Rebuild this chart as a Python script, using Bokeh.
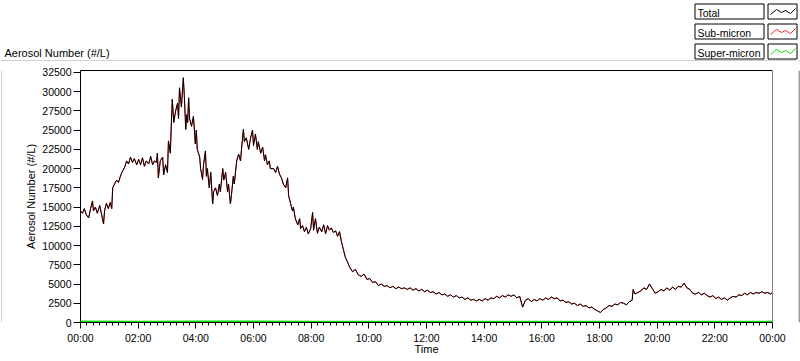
from bokeh.plotting import figure
from bokeh.layouts import column, row
from bokeh.models import LinearAxis, FixedTicker, Range1d
from bokeh.core.properties import value
from bokeh.embed import file_html
from bokeh.resources import INLINE

# ---------------- data: (minutes after midnight, aerosol number #/L) ----------------
total_readings = [
    (0, 14500), (4, 14200), (8, 14800), (12, 14000), (17, 13600), (21, 14800), (25, 15800), (27, 14500),
    (31, 15000), (35, 14200), (40, 15200), (44, 14000), (48, 12800), (50, 14500), (54, 15500), (58, 14800),
    (62, 15600), (65, 14800), (67, 17500), (71, 18000), (75, 18500), (79, 18200), (83, 19000), (87, 19600),
    (92, 20200), (96, 21000), (100, 20600), (104, 21500), (108, 20800), (112, 21300), (117, 20500), (121, 21200),
    (125, 20500), (129, 21400), (133, 20300), (137, 21000), (142, 20600), (146, 21600), (150, 20500), (154, 21000),
    (158, 20800), (160, 22000), (162, 18800), (166, 21000), (171, 21500), (173, 19200), (177, 20500), (181, 19500),
    (183, 23600), (187, 22000), (189, 25800), (191, 29000), (194, 26000), (198, 27500), (202, 28500), (204, 26500),
    (206, 30500), (210, 28000), (214, 31800), (216, 29500), (219, 25100), (221, 27000), (223, 26000), (225, 29200),
    (227, 26500), (231, 25500), (235, 26800), (239, 23200), (241, 25000), (243, 22500), (248, 21500), (250, 20000),
    (254, 18600), (256, 20500), (260, 22300), (262, 19000), (264, 20000), (268, 17500), (271, 19500), (275, 15400),
    (277, 17000), (281, 17500), (285, 16500), (289, 18000), (291, 17000), (296, 20000), (298, 18500), (302, 19500),
    (306, 17000), (308, 18000), (312, 15400), (314, 16500), (318, 19000), (320, 18000), (325, 21000), (329, 21900),
    (333, 21000), (335, 22500), (339, 25100), (341, 23500), (345, 24000), (350, 22500), (354, 24000), (358, 25000),
    (360, 23000), (364, 24500), (368, 22500), (370, 23500), (375, 22000), (379, 22800), (383, 21000), (385, 21800),
    (389, 20500), (393, 21000), (395, 20000), (402, 20000), (406, 19500), (410, 20300), (414, 19300), (418, 18800),
    (422, 18000), (427, 17500), (431, 18800), (433, 16500), (437, 15500), (441, 14500), (443, 15000), (447, 13500),
    (452, 12700), (456, 13500), (458, 12200), (462, 12600), (466, 11800), (470, 12400), (474, 11500), (479, 12200),
    (483, 14300), (485, 12000), (489, 13500), (493, 11600), (497, 12400), (502, 11800), (506, 12700), (510, 11500),
    (514, 12600), (518, 12000), (522, 12300), (526, 11700), (531, 11900), (535, 11200), (539, 11800), (543, 10500),
    (547, 9500), (551, 8500), (556, 7800), (560, 7200), (566, 6600), (572, 6900), (578, 6200), (584, 6000),
    (590, 6300), (596, 5600), (602, 5700), (608, 5200), (614, 5300), (620, 4800), (626, 5000), (632, 4700),
    (638, 4800), (644, 4500), (650, 4700), (656, 4400), (662, 4600), (668, 4400), (674, 4500), (680, 4300),
    (686, 4500), (692, 4200), (698, 4400), (704, 4100), (710, 4300), (716, 4000), (722, 4200), (728, 3900),
    (734, 4000), (740, 3700), (746, 3900), (752, 3600), (758, 3700), (764, 3400), (770, 3600), (776, 3300),
    (782, 3500), (788, 3200), (794, 3300), (800, 3000), (806, 3200), (812, 2900), (818, 3000), (824, 2800),
    (830, 3000), (836, 2800), (842, 3100), (848, 2900), (854, 3200), (860, 3100), (866, 3400), (872, 3200),
    (878, 3500), (884, 3300), (890, 3600), (896, 3400), (902, 3600), (908, 3200), (914, 3400), (920, 2000),
    (926, 2900), (932, 3100), (938, 2700), (944, 3000), (950, 2800), (956, 3100), (962, 2900), (968, 3200),
    (974, 3000), (980, 3300), (986, 3100), (992, 3200), (998, 2800), (1004, 2900), (1010, 2600), (1016, 2700),
    (1022, 2400), (1028, 2500), (1034, 2200), (1040, 2400), (1046, 2100), (1052, 2200), (1058, 1900), (1064, 2000),
    (1070, 1700), (1076, 1500), (1082, 1300), (1088, 1700), (1094, 1900), (1100, 2200), (1106, 2100), (1112, 2400),
    (1118, 2300), (1124, 2600), (1130, 2500), (1136, 2300), (1142, 2700), (1148, 2900), (1150, 4300), (1154, 3700),
    (1160, 3900), (1166, 4100), (1172, 4500), (1178, 4300), (1184, 5000), (1190, 4400), (1196, 3800), (1202, 4000),
    (1208, 4300), (1214, 4100), (1220, 4500), (1226, 4200), (1232, 4600), (1238, 4300), (1244, 4700), (1250, 4600),
    (1256, 5100), (1262, 4500), (1268, 4300), (1274, 3800), (1280, 3700), (1286, 3900), (1292, 3600), (1298, 3800),
    (1304, 3500), (1310, 3300), (1316, 3500), (1322, 3100), (1328, 3300), (1334, 3000), (1340, 3200), (1346, 2900),
    (1352, 3200), (1358, 3400), (1364, 3300), (1370, 3600), (1376, 3500), (1382, 3800), (1388, 3600), (1394, 3900),
    (1400, 3700), (1406, 3900), (1412, 3800), (1418, 4000), (1424, 3800), (1430, 3900), (1436, 3700), (1440, 3900),
]
minutes = [m for m, _ in total_readings]
total = [v for _, v in total_readings]
sub_micron = [v for _, v in total_readings]   # indistinguishable from Total at this scale
super_minutes = [0, 120, 240, 360, 480, 600, 720, 840, 960, 1080, 1200, 1320, 1440]
super_micron = [150, 140, 160, 150, 140, 130, 130, 120, 120, 120, 130, 130, 130]

x_tick_hours = [0, 2, 4, 6, 8, 10, 12, 14, 16, 18, 20, 22, 24]
x_tick_labels = ["00:00", "02:00", "04:00", "06:00", "08:00", "10:00", "12:00",
                 "14:00", "16:00", "18:00", "20:00", "22:00", "00:00"]
y_ticks = [0, 2500, 5000, 7500, 10000, 12500, 15000, 17500, 20000,
           22500, 25000, 27500, 30000, 32500]
series_names = ["Total", "Sub-micron", "Super-micron"]
series_colors = ["#000000", "#ff2020", "#00e000"]
chart_title = "Aerosol Number (#/L)"

hours = [m / 60 for m in minutes]
super_hours = [m / 60 for m in super_minutes]

FONT = "Liberation Sans"
W = 800
HEAD_H = 61
FOOT_H = 3
MAIN_H = 361 - HEAD_H - FOOT_H


def blank(width, height, x_end, y_end):
    f = figure(width=width, height=height, output_backend="svg", toolbar_location=None,
               x_range=Range1d(0, x_end), y_range=Range1d(y_end, 0),
               x_axis_location=None, y_axis_location=None,
               min_border_left=0, min_border_right=0, min_border_top=0, min_border_bottom=0,
               background_fill_color="white", border_fill_color="white")
    f.outline_line_color = None
    f.xgrid.visible = False
    f.ygrid.visible = False
    return f


# ---------------- header: title, legend, panel edge ----------------
hd = blank(W, HEAD_H, W, HEAD_H)
hd.segment(x0=[0], y0=[60.5], x1=[795], y1=[60.5], line_color="#a0a0a0", line_width=1)
hd.segment(x0=[1.5], y0=[60], x1=[1.5], y1=[HEAD_H], line_color="#a0a0a0", line_width=1)
hd.segment(x0=[798.5], y0=[60], x1=[798.5], y1=[HEAD_H], line_color="#404040", line_width=1)
hd.text(x=[4], y=[52.5], text=[chart_title], text_font=value(FONT), text_font_size="11px",
        text_color="black", text_baseline="alphabetic")

row_top = [3 + 20 * i for i in range(len(series_names))]
hd.quad(left=[694.5] * 3, right=[763.5] * 3, top=[t + 0.5 for t in row_top],
        bottom=[t + 15.5 for t in row_top], fill_color="white", line_color="black", line_width=1)
hd.quad(left=[767.5] * 3, right=[796.5] * 3, top=[t + 0.5 for t in row_top],
        bottom=[t + 15.5 for t in row_top], fill_color="white", line_color="black", line_width=1)
hd.text(x=[697] * 3, y=[t + 9 for t in row_top], text=series_names, text_font=value(FONT),
        text_font_size="10.5px", text_color="black", text_baseline="alphabetic")
zig_x = [770, 776, 781, 785, 790, 795]
zig_dy = [11, 6, 9, 7, 10, 5]
hd.multi_line(xs=[zig_x] * 3, ys=[[t + d for d in zig_dy] for t in row_top],
              line_color=series_colors, line_width=1)

# ---------------- side and bottom panel edges ----------------
left_edge = blank(2, MAIN_H, 2, MAIN_H)
left_edge.segment(x0=[1.5], y0=[0], x1=[1.5], y1=[MAIN_H], line_color="#a0a0a0", line_width=1)
right_edge = blank(2, MAIN_H, 2, MAIN_H)
right_edge.segment(x0=[0.5], y0=[0], x1=[0.5], y1=[MAIN_H], line_color="#404040", line_width=1)
foot = blank(W, FOOT_H, W, FOOT_H)
foot.segment(x0=[1.5], y0=[0], x1=[1.5], y1=[1], line_color="#a0a0a0", line_width=1)
foot.segment(x0=[798.5], y0=[0], x1=[798.5], y1=[1], line_color="#404040", line_width=1)
foot.segment(x0=[0], y0=[2], x1=[W], y1=[2], line_color="#202020", line_width=2)

# ---------------- main chart ----------------
p = figure(width=W - 4, height=MAIN_H, output_backend="svg", toolbar_location=None,
           x_range=Range1d(0, 24), y_range=Range1d(0, 32750),
           min_border_left=78, min_border_right=26, min_border_top=9, min_border_bottom=MAIN_H - 9 - 252,
           background_fill_color="white", border_fill_color="white")
p.outline_line_color = None
p.grid.visible = False

xa = p.xaxis[0]
xa.ticker = FixedTicker(ticks=x_tick_hours,
                        minor_ticks=[2 * k + 2 * j / 9 for k in range(12) for j in range(1, 9)])
xa.major_label_overrides = {h: s for h, s in zip(x_tick_hours, x_tick_labels)}
xa.axis_label = "Time"
ya = p.yaxis[0]
ya.ticker = FixedTicker(ticks=y_ticks)
ya.axis_label = chart_title
for ax in (xa, ya):
    ax.axis_line_color = "black"
    ax.major_tick_line_color = "black"
    ax.minor_tick_line_color = "black"
    ax.major_tick_in = 0
    ax.minor_tick_in = 0
    ax.major_label_text_font = FONT
    ax.major_label_text_font_size = "10.5px"
    ax.major_label_text_color = "black"
    ax.axis_label_text_font = FONT
    ax.axis_label_text_font_size = "11px"
    ax.axis_label_text_font_style = "normal"
    ax.axis_label_text_color = "black"
xa.major_tick_out = 6
xa.minor_tick_out = 3
xa.major_label_standoff = 3
xa.axis_label_standoff = -4
ya.major_tick_out = 7
ya.minor_tick_line_color = None
ya.major_label_standoff = 2
ya.axis_label_standoff = 2

top_ax = LinearAxis(ticker=FixedTicker(ticks=[]), major_label_text_font_size="0px",
                    major_label_standoff=0, major_tick_out=0, minor_tick_out=0,
                    axis_line_color="black", major_tick_line_color=None, minor_tick_line_color=None)
right_ax = LinearAxis(ticker=FixedTicker(ticks=[]), major_label_text_font_size="0px",
                      major_label_standoff=0, major_tick_out=0, minor_tick_out=0,
                      axis_line_color="#808080", major_tick_line_color=None, minor_tick_line_color=None)
p.add_layout(top_ax, "above")
p.add_layout(right_ax, "right")

p.line(hours, sub_micron, line_color=series_colors[1], line_width=1)
p.line(hours, total, line_color=series_colors[0], line_width=1)
p.line(super_hours, super_micron, line_color=series_colors[2], line_width=1.5)

layout = column(hd, row(left_edge, p, right_edge, spacing=0), foot, spacing=0)
open("out.html", "w").write(file_html(layout, INLINE))
